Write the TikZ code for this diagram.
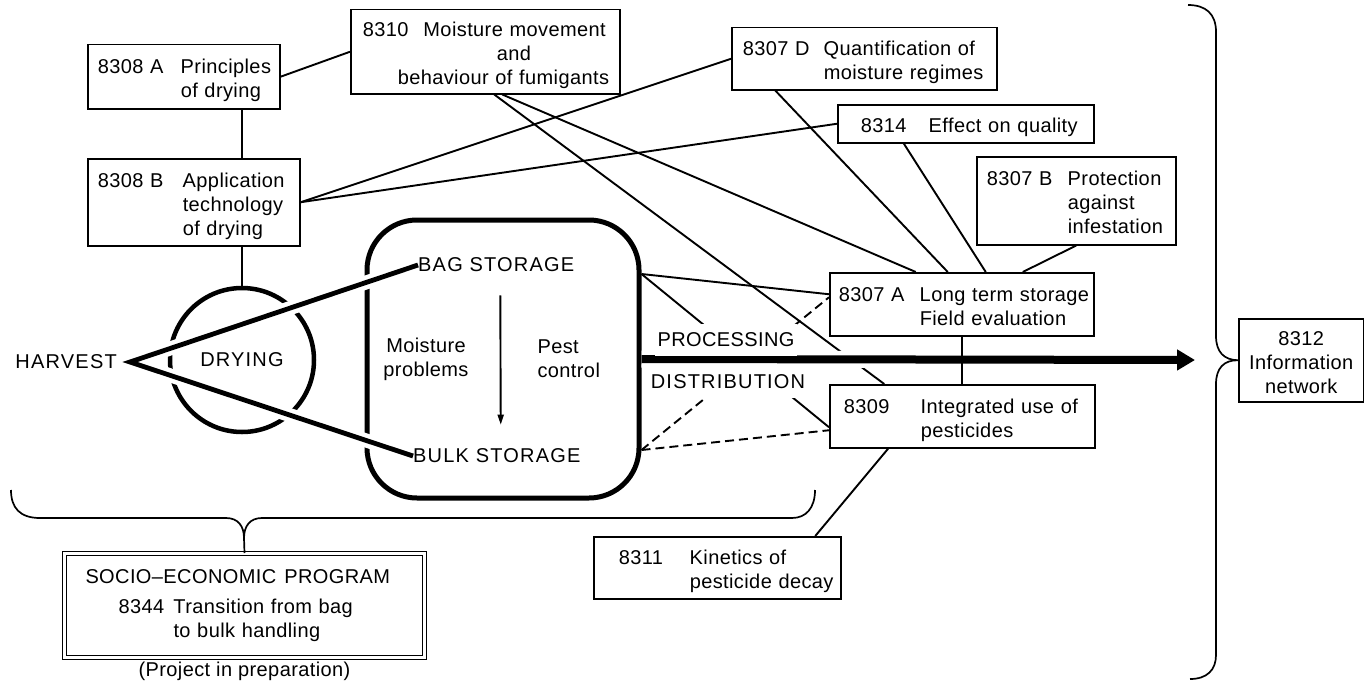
\documentclass[tikz,border=0pt]{standalone}
\usepackage{fontspec}
\setmainfont{Liberation Sans}[LetterSpace=2]
\newfontfamily\capsfont{Liberation Sans}[LetterSpace=6]
\usetikzlibrary{arrows.meta,positioning}
\newcommand{\projtab}[3]{\hspace*{#1}\begin{tabular}{@{}p{#2}@{}l@{}}\rule{0pt}{24.8pt}#3\end{tabular}}

\begin{document}
\begin{tikzpicture}[x=1pt, y=-1pt,
    every node/.style={font=\fontsize{20pt}{24pt}\selectfont},
    proj/.style={draw, line width=1.5pt, anchor=north west, inner xsep=0pt, inner ysep=0pt, align=left},
    caps/.style={font=\fontsize{20pt}{24pt}\capsfont},
    link/.style={line width=1.9pt},
    dlink/.style={line width=1.9pt, dash pattern=on 9pt off 5pt},
    harvline/.style={line width=4.8pt, line join=miter, preaction={draw=white, line width=14pt, line join=round, shorten <=5pt, shorten >=5pt}},
    flow/.style={line width=8pt, -{Triangle[length=18pt,width=20pt]}},
    gap/.style={draw=white, line width=17pt},
    clamp/.style={line width=1.7pt}
]
\useasboundingbox (0,0) rectangle (1364,685);
\node[draw, line width=5pt, rounded corners=50pt, minimum width=272pt, minimum height=278pt] (store) at (503,359) {};
\node[circle, draw, line width=4.5pt, minimum size=144pt, inner sep=0pt, caps] (dry) at (242,360) {DRYING};
\node[caps, anchor=east, inner xsep=13pt] (harv) at (130,362) {HARVEST};
\node[caps, anchor=west, inner sep=0pt] (bag) at (418,265) {BAG STORAGE};
\node[caps, anchor=west, inner sep=0pt] (bulk) at (413,456) {BULK STORAGE};
\draw[harvline] (bag.west) -- (harv.east) -- (bulk.west);
\node[align=center] (moist) at (426,359) {Moisture\\problems};
\node[align=left, anchor=west] (pest) at (534,359) {Pest\\control};
\draw[link, -{Triangle[length=10pt,width=6pt]}, shorten <=23pt, shorten >=24pt] ([xshift=4pt]bag.south) -- ([xshift=4pt]bulk.north);

\node[proj, text width=192pt, minimum height=64pt] (pa) at (87,44) {\projtab{10pt}{83pt}{8308 A & Principles\\ & of drying}};
\node[proj, text width=212pt, minimum height=87pt] (pb) at (87,158) {\projtab{10pt}{85pt}{8308 B & Application\\ & technology\\ & of drying}};
\node[proj, text width=269pt, minimum height=84pt] (p10) at (350,9) {\projtab{12pt}{0pt}{& 8310\hspace{15pt}Moisture movement\\ & \hspace*{134pt}and\\ & \hspace*{35pt}behaviour of fumigants}};
\node[proj, text width=265pt, minimum height=62pt] (pd) at (731,27) {\projtab{11pt}{81pt}{8307 D & Quantification of\\ & moisture regimes}};
\node[proj, text width=256pt, minimum height=38pt] (pe) at (837,104) {\projtab{23pt}{68pt}{8314 & Effect on quality}};
\node[proj, text width=199pt, minimum height=88pt] (pf) at (976,156) {\projtab{10pt}{81pt}{8307 B & Protection\\ & against\\ & infestation}};
\node[proj, text width=264pt, minimum height=63pt] (pg) at (829,272) {\projtab{9pt}{81pt}{8307 A & Long term storage\\ & Field evaluation}};
\node[proj, text width=265pt, minimum height=63pt] (p09) at (829,384) {\projtab{14pt}{77pt}{8309 & Integrated use of\\ & pesticides}};
\node[proj, text width=247pt, minimum height=62pt] (pk) at (593,536) {\projtab{25pt}{71pt}{8311 & Kinetics of\\ & pesticide decay}};
\node[proj, text width=125pt, minimum height=83pt, align=center] (p12) at (1238,318) {\begin{tabular}{@{}c@{}}\rule{0pt}{24.8pt}8312\\ Information\\ network\end{tabular}};
\node[draw, double, double distance=2.5pt, line width=1pt, anchor=north west, inner xsep=0pt, inner ysep=0pt, text width=360pt, minimum height=104pt, align=left] (socio) at (64,553) {\hspace*{21pt}\begin{tabular}{@{}p{88pt}@{}l@{}}\multicolumn{2}{@{}l@{}}{SOCIO--ECONOMIC\hspace{8pt}PROGRAM}\\[6pt] \hspace*{33pt}8344 & Transition from bag\\ & to bulk handling\end{tabular}};
\node[below=0pt of socio] (prep) {(Project in preparation)};

\draw[link] (pa.east) -- (p10.west);
\draw[link] (pa.south -| dry.north) -- (pb.north -| dry.north);
\draw[link] (pb.south -| dry.north) -- (dry.north);
\draw[link] (pb.east) -- (pd.west);
\draw[link] (pb.east) -- (pe.west);
\draw[link] ([xshift=9pt]p10.south) -- ([xshift=-78pt]p09.north);
\draw[link] ([xshift=17pt]p10.south) -- ([xshift=-46pt]pg.north);
\draw[link] ([xshift=-89pt]pd.south) -- ([xshift=-14pt]pg.north);
\draw[link] ([xshift=-62pt]pe.south) -- ([xshift=24pt]pg.north);
\draw[link] (pf.south) -- ([xshift=61pt]pg.north);
\draw[link] ([yshift=85pt]store.east) -- ([yshift=10pt]pg.west);
\draw[link] ([yshift=85pt]store.east) -- ([yshift=-11pt]p09.west);
\draw[dlink] ([yshift=-91pt]store.east) -- ([yshift=7pt]pg.west);
\draw[dlink] ([yshift=-91pt]store.east) -- ([yshift=-14pt]p09.west);
\draw[link] ([xshift=-74pt]p09.south) -- ([xshift=98pt]pk.north);
\coordinate (flowend) at (1175,360);
\path[gap] (store.east) -- (flowend);
\draw[flow] (store.east) -- ([xshift=20pt]flowend);
\draw[link] (pg.south) -- (pg.south |- p09.north);
\node[fill=white, inner xsep=3pt, inner ysep=9pt] (proc) at (726,340) {PROCESSING};
\node[caps, fill=white, inner xsep=3pt, inner ysep=9pt] (dist) at (728,382) {DISTRIBUTION};

\coordinate (cusp) at (244,538);
\draw[clamp] (11,490) .. controls (11,508) and (20,518) .. (40,518) -- (226,518) .. controls (238,518) and (244,526) .. (cusp) .. controls (244,526) and (250,518) .. (262,518) -- (792,518) .. controls (806,518) and (815,508) .. (815,490);
\draw[clamp] (cusp) -- (socio.north);
\draw[clamp] (1188,5) .. controls (1206,5) and (1216,14) .. (1216,32) -- (1216,336) .. controls (1216,352) and (1224,360) .. (p12.west) .. controls (1224,360) and (1216,368) .. (1216,384) -- (1216,655) .. controls (1216,670) and (1207,679) .. (1190,679);
\end{tikzpicture}
\end{document}
